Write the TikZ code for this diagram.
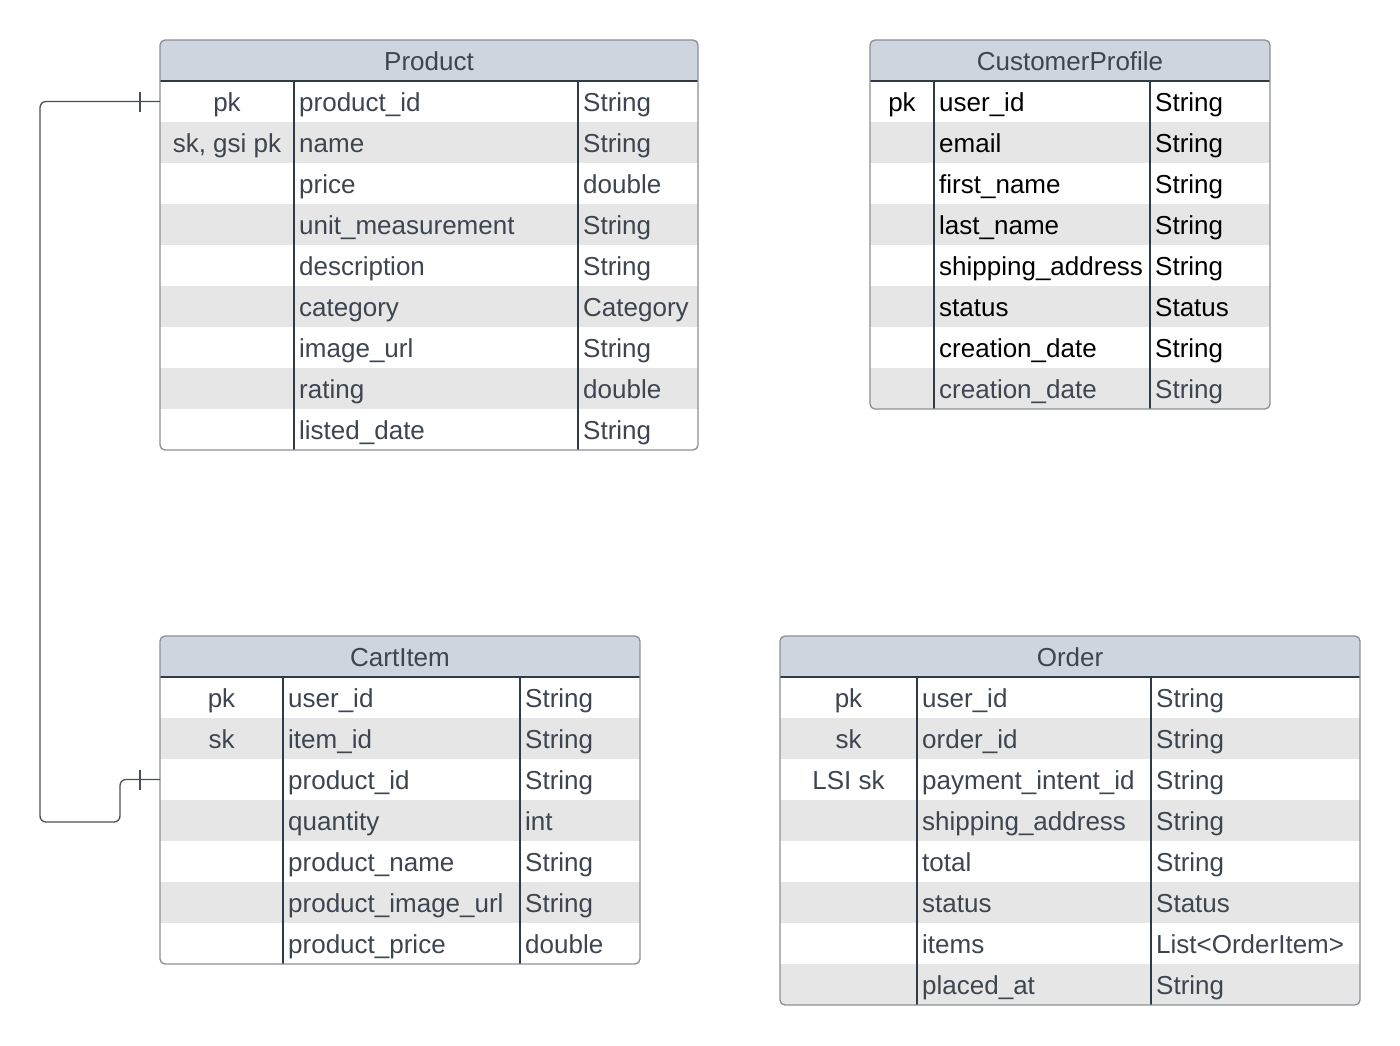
\documentclass[tikz,border=0pt]{standalone}
\usepackage{fontspec}
\setmainfont{Liberation Sans}
\definecolor{hdrfill}{HTML}{CED5DE}
\definecolor{rowfill}{HTML}{E6E6E6}
\definecolor{tx}{HTML}{3C4550}
\definecolor{bordercol}{HTML}{8B9097}
\definecolor{linecol}{HTML}{2F3A46}
\definecolor{conncol}{HTML}{4A5059}

\tikzset{
  celltext/.style={inner sep=0pt, font=\fontsize{26}{30}\selectfont},
  hdrtext/.style={celltext, text=tx, anchor=base},
  tableborder/.style={draw=bordercol, line width=1.3pt, rounded corners=5pt},
  colline/.style={draw=linecol, line width=1.1pt},
  conn/.style={draw=conncol, line width=1.3pt},
}

% #1 id, #2 left, #3 key/field rule, #4 field/type rule, #5 right,
% #6 top, #7 title, #8 number of rows, #9 rows key/field/type/colour
\newcommand\erdtable[9]{%
  \pgfmathsetmacro\erdbot{#6+41*(#8+1)}%
  \begin{scope}
    \clip[rounded corners=5pt] (#2,#6) rectangle (#5,\erdbot);
    \fill[hdrfill] (#2,#6) rectangle (#5,#6+41);
    \foreach \ek/\ef/\et/\ec [count=\i] in {#9}{%
      \pgfmathsetmacro\ytop{#6+41*\i}%
      \ifodd\i\else\fill[rowfill] (#2,\ytop) rectangle (#5,\ytop+41);\fi
    }
  \end{scope}
  \foreach \ek/\ef/\et/\ec [count=\i] in {#9}{%
    \pgfmathsetmacro\ytop{#6+41*\i}%
    \coordinate (#1-r\i) at (#2,\ytop+20.5);
    \node[celltext, text=\ec, anchor=base] (#1-k\i) at ({(#2+#3)/2},\ytop+30) {\ek};
    \node[celltext, text=\ec, anchor=base west] (#1-f\i) at (#3+5,\ytop+30) {\ef};
    \node[celltext, text=\ec, anchor=base west] (#1-t\i) at (#4+5,\ytop+30) {\et};
  }
  \node[hdrtext] (#1-title) at ({(#2+#5)/2},#6+30) {#7};
  \draw[colline] (#2,#6+41) -- (#5,#6+41);
  \draw[colline] (#3,#6+41) -- (#3,\erdbot);
  \draw[colline] (#4,#6+41) -- (#4,\erdbot);
  \draw[tableborder] (#2,#6) rectangle (#5,\erdbot);
}

\begin{document}
\begin{tikzpicture}[x=1pt, y=-1pt]
  \fill[white] (0,0) rectangle (1400,1045);
  \useasboundingbox (0,0) rectangle (1400,1045);

  \erdtable{Product}{160}{294}{578}{698}{40}{Product}{9}{%
    pk/product\_id/String/tx,
    {sk, gsi pk}/name/String/tx,
    {}/price/double/tx,
    {}/unit\_measurement/String/tx,
    {}/description/String/tx,
    {}/category/Category/tx,
    {}/image\_url/String/tx,
    {}/rating/double/tx,
    {}/listed\_date/String/tx}

  \erdtable{CustomerProfile}{870}{934}{1150}{1270}{40}{CustomerProfile}{8}{%
    pk/user\_id/String/black,
    {}/email/String/black,
    {}/first\_name/String/black,
    {}/last\_name/String/black,
    {}/shipping\_address/String/black,
    {}/status/Status/black,
    {}/creation\_date/String/black,
    {}/creation\_date/String/tx}

  \erdtable{CartItem}{160}{283}{520}{640}{636}{CartItem}{7}{%
    pk/user\_id/String/tx,
    sk/item\_id/String/tx,
    {}/product\_id/String/tx,
    {}/quantity/int/tx,
    {}/product\_name/String/tx,
    {}/product\_image\_url/String/tx,
    {}/product\_price/double/tx}

  \erdtable{Order}{780}{917}{1151}{1360}{636}{Order}{8}{%
    pk/user\_id/String/tx,
    sk/order\_id/String/tx,
    {LSI sk}/payment\_intent\_id/String/tx,
    {}/shipping\_address/String/tx,
    {}/total/String/tx,
    {}/status/Status/tx,
    {}/items/List<OrderItem>/tx,
    {}/placed\_at/String/tx}

  % relation Product.product_id -- CartItem.product_id
  \coordinate (relbend) at (120,822);
  \draw[conn, rounded corners=6pt]
    (Product-r1) -| (40,822) -- (relbend) |- (CartItem-r3);
  \draw[conn] ([xshift=-20pt]Product-r1) ++(0,-10) -- ++(0,20);
  \draw[conn] ([xshift=-20pt]CartItem-r3) ++(0,-10) -- ++(0,20);
\end{tikzpicture}
\end{document}
